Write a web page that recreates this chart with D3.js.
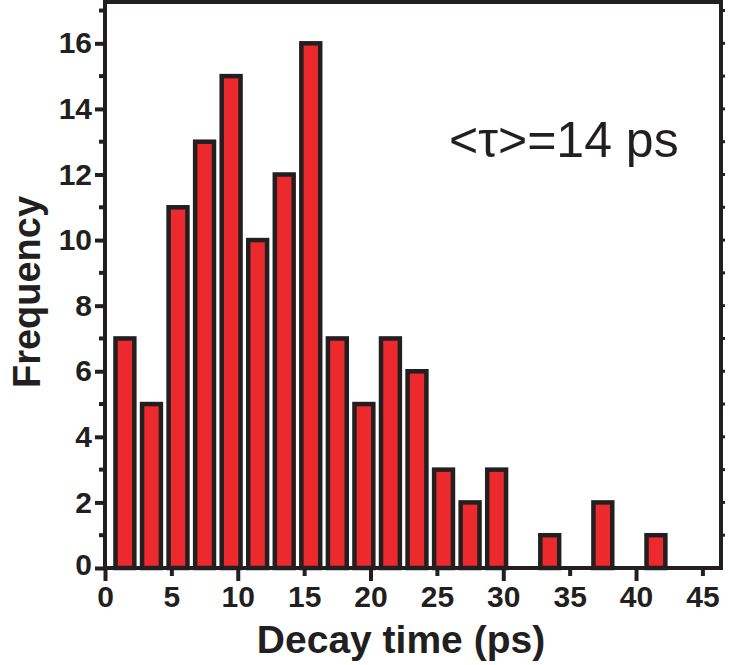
<!DOCTYPE html>
<html>
<head>
<meta charset="utf-8">
<script src="https://cdn.jsdelivr.net/npm/d3@7/dist/d3.min.js"></script>
<style>
  html, body { margin: 0; padding: 0; background: #fff; }
  svg { display: block; }
  text { font-family: "Liberation Sans", Arial, sans-serif; fill: #231f20; }
</style>
</head>
<body>
<svg id="chart" width="730" height="665"></svg>
<script>
// ---- data ----
const binCenters = [1.5, 3.5, 5.5, 7.5, 9.5, 11.5, 13.5, 15.5, 17.5, 19.5, 21.5, 23.5, 25.5, 27.5, 29.5, 31.5, 33.5, 35.5, 37.5, 39.5, 41.5, 43.5];
const frequencies = [7, 5, 11, 13, 15, 10, 12, 16, 7, 5, 7, 6, 3, 2, 3, 0, 1, 0, 2, 0, 1, 0];
const xTickValues = [0, 5, 10, 15, 20, 25, 30, 35, 40, 45];
const yTickValues = [0, 2, 4, 6, 8, 10, 12, 14, 16];
const xLabel = "Decay time (ps)";
const yLabel = "Frequency";
const annotation = "<τ>=14 ps";

// ---- layout ----
const ink = "#231f20";
const barFill = "#ec2a2e";
const svg = d3.select("#chart");
const pLeft = 105, pRight = 721, pTop = 2, pBottom = 568;

const x = d3.scaleLinear().domain([0, 46.4]).range([pLeft, pRight]);
const y = d3.scaleLinear().domain([0, 17.26]).range([pBottom, pTop]);

const barW = (x(2) - x(0)) * 0.71;
const strokeW = 4.5;

// bars
svg.append("g").selectAll("rect")
  .data(binCenters.map((c, i) => ({c, v: frequencies[i]})).filter(d => d.v > 0))
  .join("rect")
  .attr("x", d => x(d.c) - barW / 2)
  .attr("y", d => y(d.v))
  .attr("width", barW)
  .attr("height", d => y(0) - y(d.v))
  .attr("fill", barFill)
  .attr("stroke", ink)
  .attr("stroke-width", strokeW);

// frame
svg.append("rect")
  .attr("x", pLeft).attr("y", pTop)
  .attr("width", pRight - pLeft).attr("height", pBottom - pTop)
  .attr("fill", "none").attr("stroke", ink).attr("stroke-width", 4);

// x axis: labels every 5, major ticks every 10 longer
const xAxis = d3.axisBottom(x).tickValues(xTickValues).tickSize(0).tickPadding(0).tickFormat(d3.format("d"));
const gx = svg.append("g").attr("transform", `translate(0,${pBottom})`).call(xAxis);
gx.select(".domain").remove();
gx.selectAll(".tick line").remove();
gx.selectAll(".tick").append("line")
  .attr("y1", 0).attr("y2", d => d % 10 === 0 ? 13 : 8)
  .attr("stroke", ink).attr("stroke-width", 4);
gx.selectAll(".tick text")
  .attr("y", 18).attr("dy", "0.71em")
  .style("font-size", "30px").style("font-weight", "bold").attr("fill", ink);

// y axis
const yAxis = d3.axisLeft(y).tickValues(yTickValues).tickSize(10).tickPadding(3).tickFormat(d3.format("d"));
const gy = svg.append("g").attr("transform", `translate(${pLeft},0)`).call(yAxis);
gy.select(".domain").remove();
gy.selectAll(".tick line").attr("stroke", ink).attr("stroke-width", 4);
gy.selectAll(".tick text")
  .style("font-size", "30px").style("font-weight", "bold").attr("fill", ink);
gy.selectAll(".tick").filter(d => d === 0).select("text").attr("dy", "0.2em");

// y minor ticks on the left
const yMinor = d3.range(1, 17.5, 2);
svg.append("g").selectAll("line").data(yMinor).join("line")
  .attr("x1", pLeft - 6).attr("x2", pLeft)
  .attr("y1", d => y(d)).attr("y2", d => y(d))
  .attr("stroke", ink).attr("stroke-width", 4);

// right-side small ticks every unit
const yRight = d3.range(1, 18, 1);
svg.append("g").selectAll("line").data(yRight).join("line")
  .attr("x1", pRight).attr("x2", pRight + 4)
  .attr("y1", d => y(d)).attr("y2", d => y(d))
  .attr("stroke", ink).attr("stroke-width", 3);

// axis titles
svg.append("text")
  .attr("x", 401).attr("y", 653)
  .attr("text-anchor", "middle")
  .style("font-size", "39px").style("font-weight", "bold")
  .text(xLabel);

svg.append("text")
  .attr("transform", "translate(40,292) rotate(-90)")
  .attr("text-anchor", "middle")
  .style("font-size", "38px").style("font-weight", "bold")
  .text(yLabel);

// annotation
svg.append("text")
  .attr("x", 449).attr("y", 157)
  .style("font-size", "50px")
  .text(annotation);
</script>
</body>
</html>
